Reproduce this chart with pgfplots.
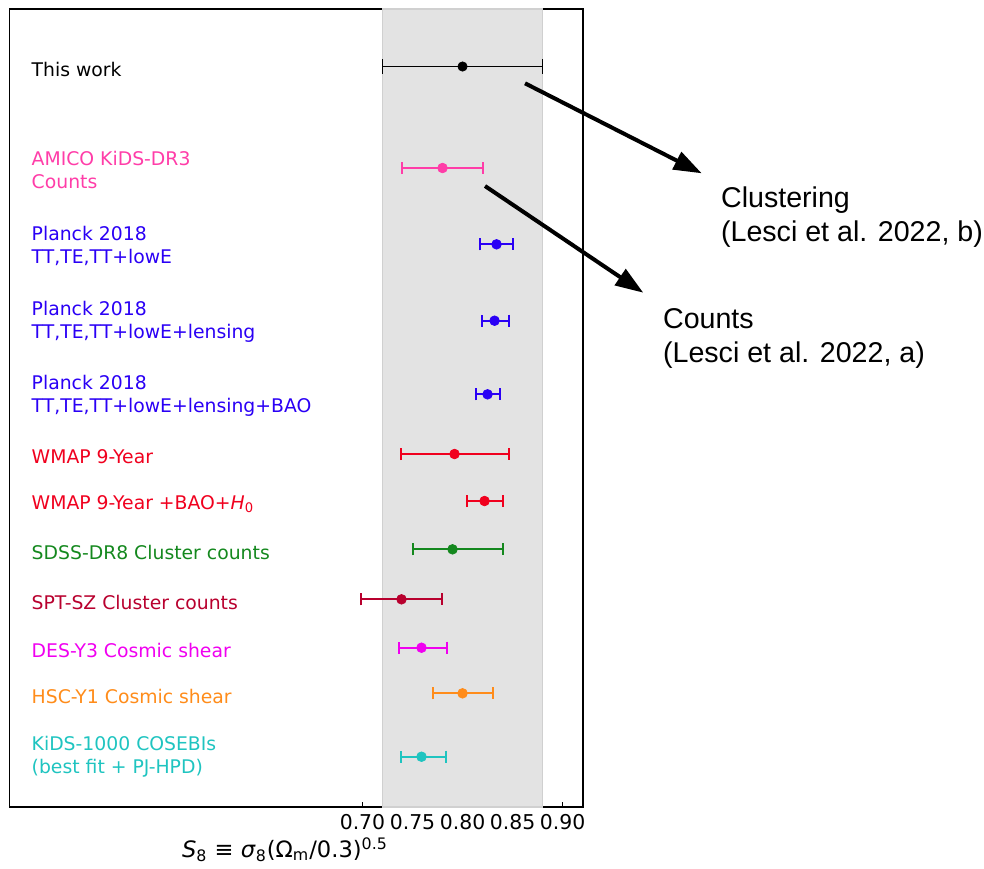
\documentclass[border=0pt]{standalone}
\usepackage{pgfplots}
\pgfplotsset{compat=1.18}
\usepackage{fontspec}
\setmainfont{DejaVu Sans}
\newfontfamily\annfont{Liberation Sans}
\usetikzlibrary{arrows.meta}
\definecolor{cAmico}{RGB}{255,61,168}
\definecolor{cPlanck}{RGB}{42,0,245}
\definecolor{cWmap}{RGB}{240,0,30}
\definecolor{cSdss}{RGB}{20,136,30}
\definecolor{cSpt}{RGB}{184,0,46}
\definecolor{cDes}{RGB}{240,0,240}
\definecolor{cHsc}{RGB}{255,140,26}
\definecolor{cKids}{RGB}{31,196,192}
\definecolor{cBand}{RGB}{227,227,227}
\definecolor{cBandEdge}{RGB}{208,208,208}
\pgfplotsset{
  pt/.style={only marks, mark=*, mark size=2.4pt, color=#1,
    mark options={solid, fill=#1, draw=#1},
    error bars/x dir=both, error bars/x explicit, error bars/error mark=|,
    error bars/error bar style={solid, line width=1pt, color=#1},
    error bars/error mark options={solid, mark size=3pt, line width=1pt, color=#1}},
}
\begin{document}
\begin{tikzpicture}
\begin{scope}[x=0.5pt,y=-0.5pt]
\path[use as bounding box] (0,0) rectangle (984,868);
\end{scope}
\begin{axis}[
  at={(4.75pt,-4.5pt)}, anchor=north west,
  scale only axis, width=286.75pt, height=399pt,
  xmin=0.3472, xmax=0.9204, ymin=9, ymax=807, y dir=reverse,
  ytick=\empty, xtick={0.70,0.75,0.80,0.85,0.90},
  tick align=inside, xtick pos=bottom, major tick length=2.5pt,
  tick style={black, line width=0.6pt},
  axis line style={line width=0.8pt},
  xticklabel style={/pgf/number format/.cd, fixed, fixed zerofill, precision=2, assume math mode=true},
  ticklabel style={font=\fontsize{10.2}{12}\selectfont},
  clip=false,
]
\addplot[fill=cBand, draw=cBandEdge, line width=0.6pt] coordinates {(0.72,9) (0.88,9) (0.88,807) (0.72,807)} -- cycle;

\addplot[pt=black, mark size=2.3pt, error bars/error bar style={solid, line width=0.7pt, color=black}, error bars/error mark options={solid, mark size=3.6pt, line width=0.7pt, color=black}] coordinates {(0.800,66.5) +- (0.080,0)};
\addplot[pt=cAmico] coordinates {(0.780,168) += (0.040,0) -= (0.0405,0)};
\addplot[pt=cPlanck] coordinates {(0.834,244.3) +- (0.0165,0)};
\addplot[pt=cPlanck] coordinates {(0.832,320.7) += (0.014,0) -= (0.013,0)};
\addplot[pt=cPlanck] coordinates {(0.825,394.3) += (0.012,0) -= (0.0117,0)};
\addplot[pt=cWmap] coordinates {(0.792,454) +- (0.054,0)};
\addplot[pt=cWmap] coordinates {(0.822,501) += (0.0185,0) -= (0.0175,0)};
\addplot[pt=cSdss] coordinates {(0.790,549.3) += (0.050,0) -= (0.040,0)};
\addplot[pt=cSpt] coordinates {(0.739,599.3) +- (0.040,0)};
\addplot[pt=cDes] coordinates {(0.759,647.7) += (0.025,0) -= (0.023,0)};
\addplot[pt=cHsc] coordinates {(0.800,693.3) +- (0.030,0)};
\addplot[pt=cKids] coordinates {(0.759,756.7) += (0.024,0) -= (0.021,0)};

\begin{scope}[every node/.style={anchor=west, align=left, inner sep=0pt, font=\fontsize{9.4}{11.5}\selectfont}]
\node[text=black] at (axis cs:0.369,69) {This work};
\node[text=cAmico] at (axis cs:0.369,169.5) {AMICO KiDS-DR3\\Counts};
\node[text=cPlanck] at (axis cs:0.369,245.5) {Planck 2018\\TT,TE,TT+lowE};
\node[text=cPlanck] at (axis cs:0.369,321.5) {Planck 2018\\TT,TE,TT+lowE+lensing};
\node[text=cPlanck] at (axis cs:0.369,395.5) {Planck 2018\\TT,TE,TT+lowE+lensing+BAO};
\node[text=cWmap] at (axis cs:0.369,456.5) {WMAP 9-Year};
\node[text=cWmap] at (axis cs:0.369,504) {WMAP 9-Year +BAO+\textit{H}\textsubscript{0}};
\node[text=cSdss] at (axis cs:0.369,552) {SDSS-DR8 Cluster counts};
\node[text=cSpt] at (axis cs:0.369,602) {SPT-SZ Cluster counts};
\node[text=cDes] at (axis cs:0.369,650) {DES-Y3 Cosmic shear};
\node[text=cHsc] at (axis cs:0.369,696) {HSC-Y1 Cosmic shear};
\node[text=cKids] at (axis cs:0.369,757) {KiDS-1000 COSEBIs\\(best fit + PJ-HPD)};
\end{scope}
\end{axis}
\begin{scope}[x=0.5pt,y=-0.5pt]
\node[font=\fontsize{11.3}{13}\selectfont, anchor=center] at (285,850) {\textit{S}\textsubscript{8} ≡ \textit{σ}\textsubscript{8}(Ω\textsubscript{m}/0.3)\textsuperscript{0.5}};
\draw[line width=2pt, -{Triangle[length=14pt,width=9.5pt]}] (525,83.3) -- (701.7,173.3);
\draw[line width=2pt, -{Triangle[length=14pt,width=9.5pt]}] (485,186) -- (643.3,292.7);
\begin{scope}[every node/.style={anchor=base west, inner sep=0pt, font=\annfont\fontsize{14.3}{17}\selectfont}]
\node at (720.7,207) {Clustering};
\node at (720.7,241.7) {(Lesci et al. 2022, b)};
\node at (662.7,328.3) {Counts};
\node at (662.7,362.7) {(Lesci et al. 2022, a)};
\end{scope}
\end{scope}
\end{tikzpicture}
\end{document}
